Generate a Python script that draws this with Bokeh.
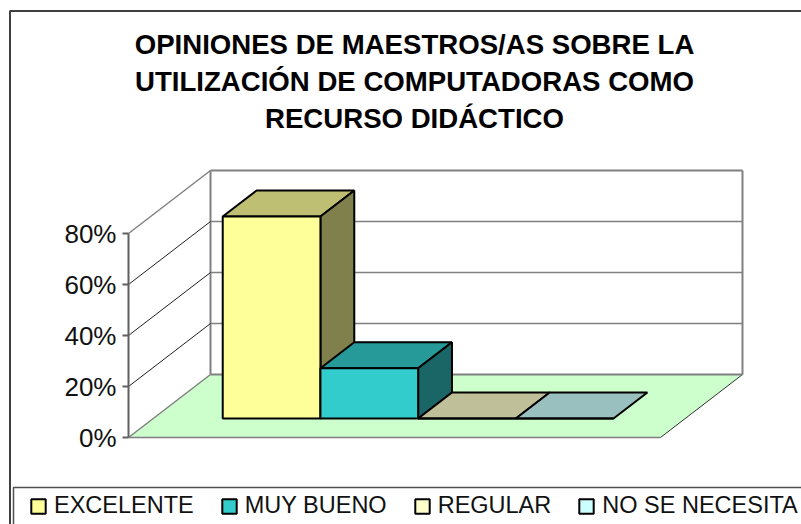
from bokeh.plotting import figure
from bokeh.models import (Range1d, LinearAxis, FixedTicker, NumeralTickFormatter, Label,
                          Legend, LegendItem, BoxAnnotation)
from bokeh.embed import file_html
from bokeh.resources import INLINE

series = ["EXCELENTE", "MUY BUENO", "REGULAR", "NO SE NECESITA"]
values = [0.792, 0.197, 0.0, 0.0]
front_colors = ["#FFFF99", "#33CCCC", "#FFFFCC", "#CCFFFF"]
top_colors = ["#BFBF73", "#269999", "#BFBF99", "#99BFBF"]
side_colors = ["#80804D", "#1A6666", "#808066", "#668080"]
ticks = [0, 0.2, 0.4, 0.6, 0.8]
title = "OPINIONES DE MAESTROS/AS SOBRE LA\nUTILIZACIÓN DE COMPUTADORAS COMO\nRECURSO DIDÁCTICO"

W, H = 801, 524
FL, Y0, PX_V, CAT_W = 128, 437, 255.0, 532.0
DX, DY = 82 / CAT_W, 63 / PX_V          # floor depth expressed in data units
BW, GAP = 97.7 / CAT_W, 69.5 / CAT_W
Z0, Z1 = 19 / 63, 45 / 63               # depth span of bars
VMAX = 0.8


def pr(c, v, z):
    return c + z * DX, v + z * DY


def poly(pts):
    return [a for a, _ in pts], [b for _, b in pts]


p = figure(width=W, height=H, output_backend="svg", toolbar_location=None,
           x_range=Range1d(-FL / CAT_W, (W - FL) / CAT_W),
           y_range=Range1d((Y0 - H) / PX_V, Y0 / PX_V),
           x_axis_type=None, y_axis_type=None,
           min_border_left=0, min_border_right=0, min_border_top=0, min_border_bottom=0,
           outline_line_color=None)
p.grid.visible = False

# walls and floor
fx, fy = poly([pr(0, 0, 0), pr(1, 0, 0), pr(1, 0, 1), pr(0, 0, 1)])
p.patch(fx, fy, fill_color="#CCFFCC", line_color=None)
GREY = "#808080"
for a, b, col, w in [((0, 0, 0), (1, 0, 0), GREY, 1.5), ((0, 0, 0), (0, 0, 1), GREY, 1.5),
                     ((1, 0, 0), (1, 0, 1), "#303030", 1), ((0, 0, 1), (1, 0, 1), GREY, 2),
                     ((0, 0, 1), (0, VMAX, 1), GREY, 2), ((1, 0, 1), (1, VMAX, 1), GREY, 2),
                     ((0, VMAX, 0), (0, VMAX, 1), GREY, 1.5), ((0, VMAX, 1), (1, VMAX, 1), GREY, 2)]:
    x, y = poly([pr(*a), pr(*b)])
    p.line(x, y, line_color=col, line_width=w)
for t in ticks[1:-1]:
    x, y = poly([pr(0, t, 1), pr(1, t, 1)])
    p.line(x, y, line_color=GREY, line_width=1.5)
    x, y = poly([pr(0, t, 0), pr(0, t, 1)])
    p.line(x, y, line_color="#202020", line_width=1)

# bars
items = []
for i, (name, val) in enumerate(zip(series, values)):
    l = GAP + i * BW
    r = l + BW
    tx, ty = poly([pr(l, val, Z0), pr(r, val, Z0), pr(r, val, Z1), pr(l, val, Z1)])
    p.patch(tx, ty, fill_color=top_colors[i], line_color="black", line_width=2)
    if val > 0:
        sx, sy = poly([pr(r, 0, Z0), pr(r, val, Z0), pr(r, val, Z1), pr(r, 0, Z1)])
        p.patch(sx, sy, fill_color=side_colors[i], line_color="black", line_width=2)
    a = pr(l, 0, Z0)
    b = pr(r, val, Z0)
    q = p.quad(left=[a[0]], right=[b[0]], bottom=[a[1]], top=[b[1]],
               fill_color=front_colors[i], line_color="black", line_width=2)
    items.append(LegendItem(label=name, renderers=[q]))

# value axis, fixed inside the frame at the floor's front-left corner
ax = LinearAxis(ticker=FixedTicker(ticks=ticks), formatter=NumeralTickFormatter(format="0%"),
                fixed_location=0, bounds=(0, VMAX), axis_line_color="#606060", axis_line_width=2,
                major_tick_line_color="#606060", major_tick_line_width=2,
                major_tick_in=0, major_tick_out=6, minor_tick_line_color=None,
                major_label_text_font="Liberation Sans", major_label_text_font_size="26px",
                major_label_text_color="#111111", major_label_standoff=6)
p.add_layout(ax, "left")

# chart frame and legend frame
p.add_layout(BoxAnnotation(left=9.5, top=10.5, right=W + 20, bottom=H + 20, left_units="canvas",
                           right_units="canvas", top_units="canvas", bottom_units="canvas",
                           fill_color=None, line_color="#404040", line_alpha=1, line_width=2))
p.add_layout(BoxAnnotation(left=13, top=487, right=W + 20, bottom=H + 20, left_units="canvas",
                           right_units="canvas", top_units="canvas", bottom_units="canvas",
                           fill_color=None, line_color="#505050", line_alpha=1, line_width=1.5))

lab = Label(x=414, y=81, x_units="canvas", y_units="canvas", text=title, text_align="center",
            text_baseline="middle", text_font="Liberation Sans", text_font_style="bold",
            text_font_size="27.6px", text_color="black", text_line_height=1.2)
p.add_layout(lab)

leg = Legend(items=items, orientation="horizontal", location=(29, 5),
             label_text_font="Liberation Sans", label_text_font_size="23.5px", label_text_color="#111111",
             glyph_width=18, glyph_height=18, label_standoff=7, spacing=26, padding=6, margin=0,
             border_line_color=None, background_fill_alpha=0)
p.add_layout(leg)

open("out.html", "w").write(file_html(p, INLINE))
